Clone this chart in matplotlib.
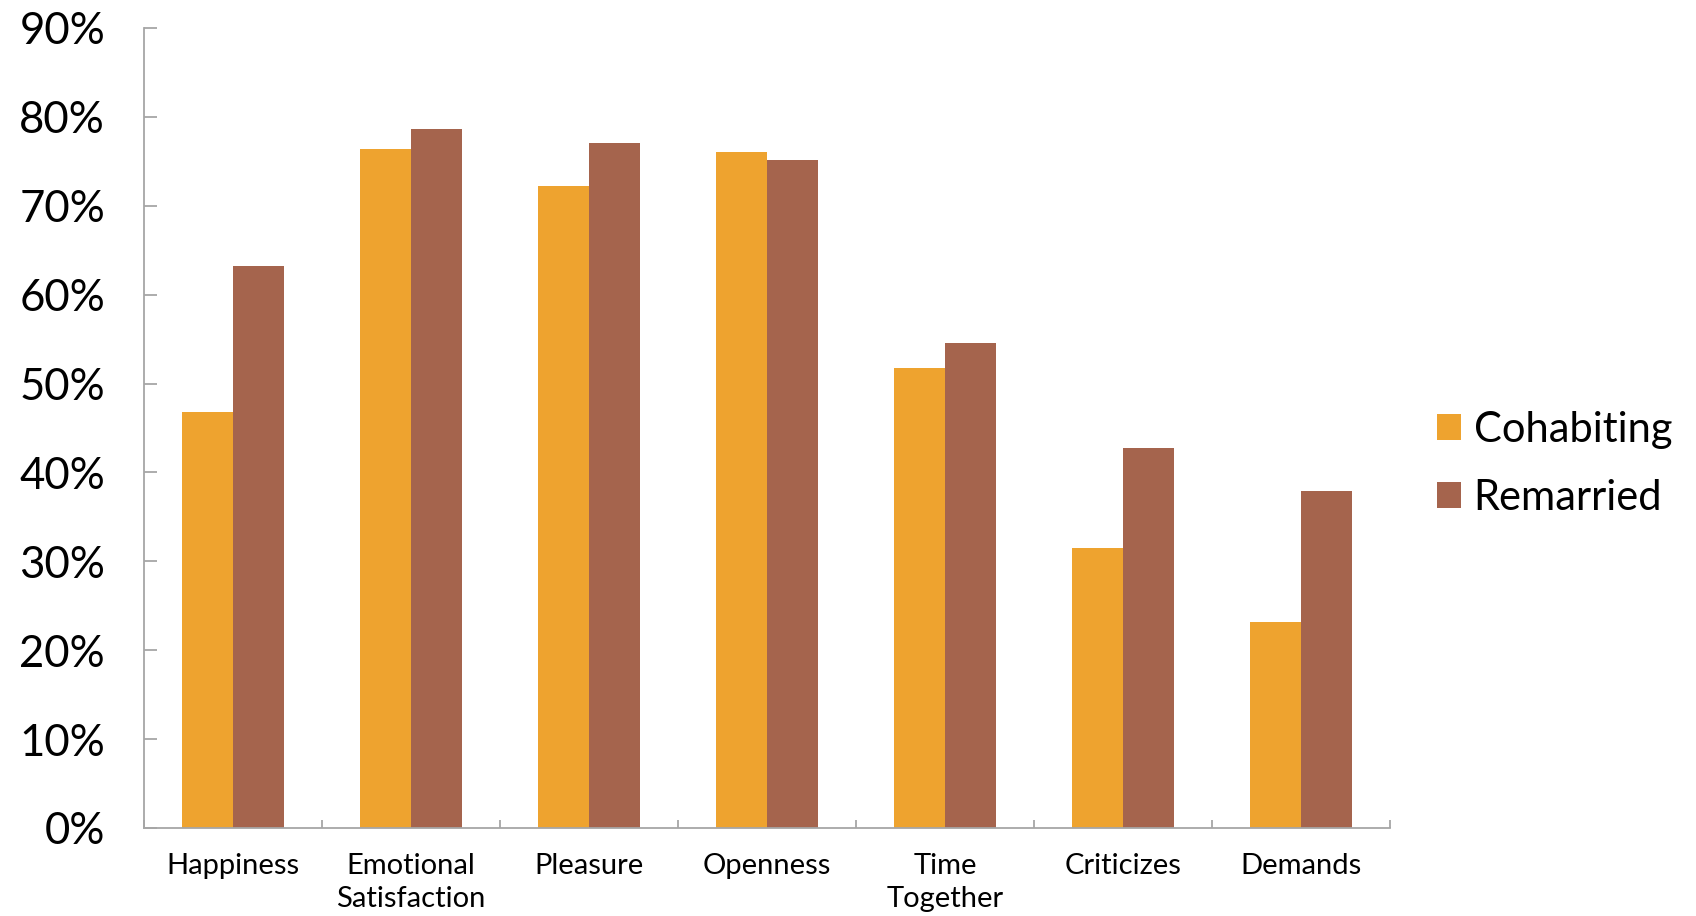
import matplotlib
matplotlib.use("Agg")
import matplotlib.pyplot as plt
from matplotlib.patches import Patch
from matplotlib.ticker import PercentFormatter, FixedLocator
import numpy as np

categories = ["Happiness", "Emotional\nSatisfaction", "Pleasure", "Openness",
              "Time\nTogether", "Criticizes", "Demands"]
cohabiting = [46.8, 76.4, 72.2, 76.1, 51.7, 31.5, 23.2]
remarried = [63.2, 78.6, 77.1, 75.1, 54.6, 42.8, 37.9]
series_names = ["Cohabiting", "Remarried"]
y_ticks = [0, 10, 20, 30, 40, 50, 60, 70, 80, 90]

ORANGE = "#EEA32F"
BROWN = "#A5644D"
AXIS_GRAY = "#A6A6A6"

plt.rcParams["font.family"] = ["Lato", "DejaVu Sans"]

fig = plt.figure(figsize=(16.96, 9.16), dpi=100)
ax = fig.add_axes([144 / 1696, 1 - 828 / 916, (1390 - 144) / 1696, 800 / 916])

x = np.arange(len(categories))
w = 0.286
ax.bar(x - w / 2, cohabiting, width=w, color=ORANGE, linewidth=0)
ax.bar(x + w / 2, remarried, width=w, color=BROWN, linewidth=0)

ax.set_xlim(-0.5, len(categories) - 0.5)
ax.set_ylim(0, 90)
ax.set_yticks(y_ticks)
ax.yaxis.set_major_formatter(PercentFormatter(decimals=0))

ax.set_xticks(x)
ax.set_xticklabels(categories, fontsize=21, linespacing=1.32, va="top")
ax.xaxis.set_minor_locator(FixedLocator(np.arange(-0.5, len(categories), 1.0)))

ax.tick_params(axis="x", which="major", length=0, pad=18)
ax.tick_params(axis="x", which="minor", direction="in", length=6,
               width=1.3, color=AXIS_GRAY)
ax.tick_params(axis="y", which="major", direction="in", length=9.5,
               width=1.3, color=AXIS_GRAY, labelsize=31.5, pad=28)

for side in ("top", "right"):
    ax.spines[side].set_visible(False)
for side in ("left", "bottom"):
    ax.spines[side].set_color(AXIS_GRAY)
    ax.spines[side].set_linewidth(1.3)

handles = [Patch(facecolor=ORANGE, edgecolor="none"),
           Patch(facecolor=BROWN, edgecolor="none")]
fig.legend(handles, series_names, loc="center left",
           bbox_to_anchor=(1437 / 1696, 1 - 464 / 916),
           frameon=False, fontsize=30, handlelength=0.58, handleheight=0.58,
           handletextpad=0.3, labelspacing=0.72, borderpad=0, borderaxespad=0)

fig.savefig("out.png", dpi=100, facecolor="white")
